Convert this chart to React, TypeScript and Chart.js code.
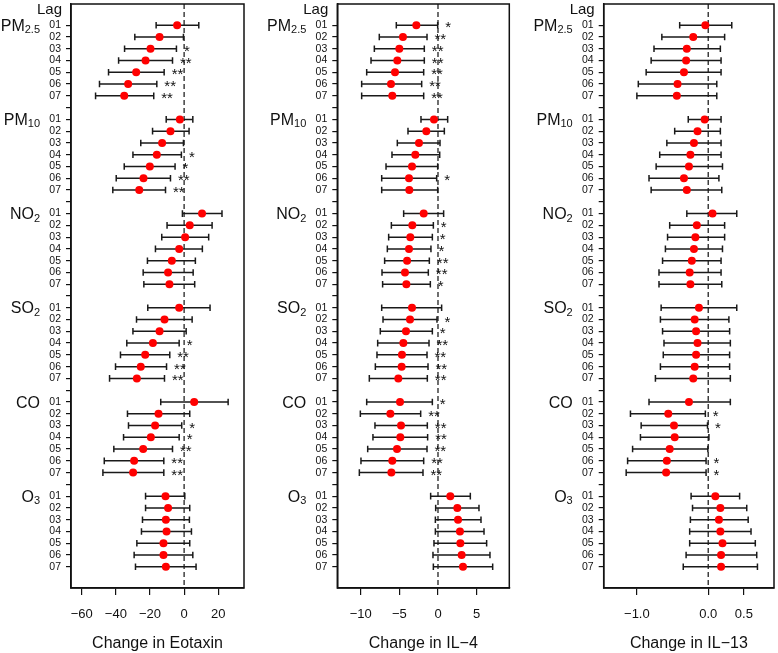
import React, { useEffect, useRef } from "react";
import { Chart, registerables } from "chart.js";
Chart.register(...registerables);

const FONT = '"Liberation Sans", Arial, Helvetica, sans-serif';
Chart.defaults.font.family = FONT;

const pollutantNames = ["PM", "PM", "NO", "SO", "CO", "O"];
const pollutantSubs = ["2.5", "10", "2", "2", "", "3"];
const lagLabels = ["01", "02", "03", "04", "05", "06", "07"];

// Eotaxin
const eotaxinEst = [
  -4.1, -14.4, -19.7, -22.6, -28.1, -32.8, -35.1,
  -2.5, -8.0, -12.9, -16.0, -20.1, -23.8, -26.3,
  10.5, 3.3, 0.6, -2.9, -7.2, -9.4, -8.6,
  -2.9, -11.5, -14.4, -18.3, -22.8, -25.4, -27.7,
  5.9, -15.0, -17.0, -19.5, -24.0, -29.3, -29.9,
  -10.9, -9.4, -10.7, -10.3, -12.1, -12.1, -10.7,
];
const eotaxinLow = [
  -16.4, -28.9, -34.9, -38.4, -44.3, -49.6, -51.9,
  -10.5, -18.5, -25.4, -30.0, -35.1, -39.8, -41.8,
  -1.0, -10.0, -13.1, -16.8, -21.5, -24.0, -23.6,
  -21.3, -27.9, -30.0, -33.6, -37.3, -40.2, -43.7,
  -13.7, -33.2, -32.6, -35.5, -41.2, -46.8, -47.6,
  -22.6, -22.6, -24.4, -25.0, -27.7, -29.3, -28.5,
];
const eotaxinHigh = [
  8.6, -0.4, -4.5, -6.8, -11.7, -16.0, -17.8,
  5.1, 2.9, -0.4, -1.6, -5.3, -8.0, -10.9,
  22.2, 16.4, 14.4, 10.7, 6.6, 5.3, 6.2,
  15.2, 4.7, 1.2, -2.9, -8.4, -10.3, -11.5,
  25.8, 3.3, -1.4, -2.9, -6.8, -11.9, -11.9,
  0.4, 3.3, 3.1, 4.3, 3.3, 5.1, 7.0,
];
const eotaxinStars = [
  "", "", "*", "**", "**", "**", "**",
  "", "", "", "*", "*", "**", "**",
  "", "", "", "", "", "", "",
  "", "", "", "*", "**", "**", "**",
  "", "", "*", "*", "**", "**", "**",
  "", "", "", "", "", "", "",
];
const eotaxinTicks = [-60, -40, -20, 0, 20];
const eotaxinTickLabels = ["\u221260", "\u221240", "\u221220", "0", "20"];

// IL-4
const il4Est = [
  -2.8, -4.53, -5.0, -5.26, -5.56, -6.08, -5.91,
  -0.52, -1.51, -2.46, -2.93, -3.36, -3.75, -3.71,
  -1.85, -3.32, -3.58, -3.75, -4.0, -4.27, -4.09,
  -3.36, -3.62, -4.14, -4.48, -4.66, -4.7, -5.13,
  -4.91, -6.16, -4.78, -4.87, -5.3, -5.91, -6.03,
  1.59, 2.5, 2.59, 2.84, 2.89, 3.06, 3.23,
];
const il4Low = [
  -5.39, -7.59, -8.23, -8.66, -9.22, -9.87, -9.87,
  -2.2, -3.88, -5.26, -5.95, -6.72, -7.28, -7.28,
  -4.44, -6.03, -6.38, -6.55, -6.9, -7.24, -7.16,
  -7.28, -7.11, -7.46, -7.8, -7.89, -8.1, -8.88,
  -9.22, -10.04, -8.15, -8.41, -9.09, -9.96, -10.17,
  -0.95, -0.3, -0.34, -0.34, -0.52, -0.65, -0.6,
];
const il4High = [
  -0.04, -1.42, -1.77, -1.77, -1.85, -2.11, -1.85,
  1.25, 0.82, 0.26, 0.22, -0.04, -0.17, -0.04,
  0.73, -0.6, -0.73, -0.91, -1.12, -1.25, -0.99,
  0.47, -0.13, -0.73, -1.16, -1.42, -1.29, -1.38,
  -0.73, -2.24, -1.38, -1.34, -1.42, -1.85, -1.94,
  4.18, 5.3, 5.56, 5.95, 6.29, 6.72, 7.07,
];
const il4Stars = [
  "*", "**", "**", "**", "**", "**", "**",
  "", "", "", "", "", "*", "",
  "", "*", "*", "*", "**", "**", "*",
  "", "*", "*", "**", "**", "**", "**",
  "*", "**", "**", "**", "**", "**", "**",
  "", "", "", "", "", "", "",
];
const il4Ticks = [-10, -5, 0, 5];
const il4TickLabels = ["\u221210", "\u22125", "0", "5"];

// IL-13
const il13Est = [
  -0.04, -0.21, -0.3, -0.31, -0.34, -0.43, -0.44,
  -0.05, -0.15, -0.2, -0.25, -0.27, -0.34, -0.3,
  0.06, -0.16, -0.18, -0.2, -0.23, -0.26, -0.25,
  -0.13, -0.19, -0.17, -0.15, -0.17, -0.19, -0.21,
  -0.27, -0.56, -0.48, -0.47, -0.54, -0.58, -0.59,
  0.1, 0.17, 0.15, 0.17, 0.2, 0.18, 0.18,
];
const il13Low = [
  -0.4, -0.65, -0.76, -0.8, -0.87, -0.98, -1.0,
  -0.28, -0.47, -0.58, -0.68, -0.73, -0.83, -0.8,
  -0.3, -0.54, -0.57, -0.6, -0.64, -0.69, -0.69,
  -0.66, -0.67, -0.64, -0.62, -0.63, -0.67, -0.74,
  -0.83, -1.09, -0.94, -0.95, -1.06, -1.13, -1.15,
  -0.24, -0.22, -0.25, -0.26, -0.26, -0.31, -0.35,
];
const il13High = [
  0.33, 0.23, 0.17, 0.18, 0.18, 0.12, 0.12,
  0.18, 0.17, 0.18, 0.18, 0.2, 0.15, 0.19,
  0.4, 0.23, 0.23, 0.2, 0.18, 0.18, 0.19,
  0.4, 0.29, 0.3, 0.31, 0.3, 0.3, 0.31,
  0.31, -0.04, -0.01, 0.01, -0.005, -0.03, -0.03,
  0.44, 0.54, 0.56, 0.6, 0.66, 0.68, 0.69,
];
const il13Stars = [
  "", "", "", "", "", "", "",
  "", "", "", "", "", "", "",
  "", "", "", "", "", "", "",
  "", "", "", "", "", "", "",
  "", "*", "*", "", "", "*", "*",
  "", "", "", "", "", "", "",
];
const il13Ticks = [-1, 0, 0.5];
const il13TickLabels = ["\u22121.0", "0.0", "0.5"];

type PanelCfg = {
  est: number[]; low: number[]; high: number[]; stars: string[];
  ticks: number[]; tickLabels: string[]; min: number; max: number; title: string;
  left: number; width: number; axisWidth: number; padRight: number;
};

const panels: PanelCfg[] = [
  { est: eotaxinEst, low: eotaxinLow, high: eotaxinHigh, stars: eotaxinStars, ticks: eotaxinTicks, tickLabels: eotaxinTickLabels,
    min: -66.3, max: 35.1, title: "Change in Eotaxin", left: 0, width: 260, axisWidth: 71, padRight: 16 },
  { est: il4Est, low: il4Low, high: il4High, stars: il4Stars, ticks: il4Ticks, tickLabels: il4TickLabels,
    min: -13.02, max: 9.22, title: "Change in IL\u22124", left: 260, width: 258, axisWidth: 77.3, padRight: 8.7 },
  { est: il13Est, low: il13Low, high: il13High, stars: il13Stars, ticks: il13Ticks, tickLabels: il13TickLabels,
    min: -1.465, max: 0.922, title: "Change in IL\u221213", left: 518, width: 260, axisWidth: 85.7, padRight: 1.7 },
];

const rowOf = (i: number) => Math.floor(i / 7) * 8 + (i % 7);

function Panel({ cfg }: { cfg: PanelCfg }) {
  const ref = useRef<HTMLCanvasElement>(null);
  useEffect(() => {
    const canvas = ref.current!;
    const pts = cfg.est.map((v, i) => ({ x: v, y: rowOf(i) }));
    const ink = "#111";
    const plugin = {
      id: "forest",
      beforeDatasetsDraw(chart: any) {
        const { ctx, chartArea, scales } = chart;
        const x = scales.x, y = scales.y;
        ctx.save();
        const x0 = x.getPixelForValue(0);
        ctx.strokeStyle = "#222";
        ctx.lineWidth = 1.3;
        ctx.setLineDash([5, 3]);
        ctx.beginPath();
        ctx.moveTo(x0, chartArea.top);
        ctx.lineTo(x0, chartArea.bottom);
        ctx.stroke();
        ctx.setLineDash([]);
        ctx.strokeStyle = "#1a1a1a";
        ctx.lineWidth = 1.5;
        cfg.low.forEach((lo, i) => {
          const yy = y.getPixelForValue(rowOf(i));
          const xl = x.getPixelForValue(lo);
          const xh = x.getPixelForValue(cfg.high[i]);
          ctx.beginPath();
          ctx.moveTo(xl, yy); ctx.lineTo(xh, yy);
          ctx.moveTo(xl, yy - 3.3); ctx.lineTo(xl, yy + 3.3);
          ctx.moveTo(xh, yy - 3.3); ctx.lineTo(xh, yy + 3.3);
          ctx.stroke();
        });
        ctx.restore();
      },
      afterDraw(chart: any) {
        const { ctx, chartArea, scales } = chart;
        const x = scales.x, y = scales.y;
        ctx.save();
        ctx.strokeStyle = ink;
        ctx.lineWidth = 1.5;
        ctx.strokeRect(chartArea.left, chartArea.top, chartArea.right - chartArea.left, chartArea.bottom - chartArea.top);
        ctx.fillStyle = ink;
        ctx.font = `15px ${FONT}`;
        ctx.textAlign = "left";
        ctx.textBaseline = "alphabetic";
        cfg.stars.forEach((s, i) => {
          if (!s) return;
          const yy = y.getPixelForValue(rowOf(i));
          const xh = x.getPixelForValue(cfg.high[i]);
          ctx.fillText(s, xh + 7.5, yy + 7);
        });
        ctx.textAlign = "right";
        ctx.font = `15px ${FONT}`;
        ctx.fillText("Lag", chartArea.left - 9, 13.5);
        const right = chartArea.left - 31;
        pollutantNames.forEach((name, p) => {
          const yy = y.getPixelForValue(p * 8);
          const sub = pollutantSubs[p];
          ctx.font = `16px ${FONT}`;
          const wMain = ctx.measureText(name).width;
          ctx.font = `11px ${FONT}`;
          const wSub = sub ? ctx.measureText(sub).width : 0;
          const start = right - wMain - wSub;
          ctx.textAlign = "left";
          ctx.font = `16px ${FONT}`;
          ctx.fillText(name, start, yy + 5.7);
          if (sub) {
            ctx.font = `11px ${FONT}`;
            ctx.fillText(sub, start + wMain, yy + 8);
          }
        });
        ctx.textAlign = "center";
        ctx.font = `16px ${FONT}`;
        ctx.fillText(cfg.title, (chartArea.left + chartArea.right) / 2, 648);
        ctx.restore();
      },
    };
    const chart = new Chart(canvas, {
      type: "scatter",
      data: {
        datasets: [
          {
            data: pts,
            pointRadius: 4,
            pointBackgroundColor: "#ff0000",
            pointBorderColor: "#ff0000",
            pointBorderWidth: 0,
            showLine: false,
          },
        ],
      },
      options: {
        animation: false,
        responsive: false,
        devicePixelRatio: 1,
        events: [],
        plugins: { legend: { display: false }, tooltip: { enabled: false } },
        layout: { padding: { top: 3, right: cfg.padRight, bottom: 0, left: 0 } },
        scales: {
          x: {
            type: "linear",
            position: "bottom",
            min: cfg.min,
            max: cfg.max,
            afterBuildTicks: (s: any) => { s.ticks = cfg.ticks.map((v) => ({ value: v })); },
            afterFit: (s: any) => { s.height = 65; s.paddingLeft = 0; s.paddingRight = 0; },
            ticks: {
              callback: (_v: any, i: number) => cfg.tickLabels[i],
              font: { size: 13 },
              color: ink,
              padding: 12,
              maxRotation: 0,
              autoSkip: false,
            },
            grid: { drawOnChartArea: false, drawTicks: true, tickLength: 7, color: ink, lineWidth: 1.2 },
            border: { display: true, color: ink, width: 1.5 },
          },
          y: {
            type: "linear",
            reverse: true,
            min: -1.8,
            max: 47.8,
            afterBuildTicks: (s: any) => { s.ticks = Array.from({ length: 47 }, (_, i) => ({ value: i })); },
            afterFit: (s: any) => { s.width = cfg.axisWidth; s.paddingTop = 0; s.paddingBottom = 0; },
            ticks: {
              callback: (v: any) => { const r = Math.round(v) % 8; return r < 7 ? lagLabels[r] : ""; },
              font: { size: 10.5 },
              color: ink,
              padding: 5,
              autoSkip: false,
            },
            grid: { drawOnChartArea: false, drawTicks: true, tickLength: 5, color: ink, lineWidth: 1.2 },
            border: { display: true, color: ink, width: 1.5 },
          },
        },
      },
      plugins: [plugin],
    } as any);
    return () => chart.destroy();
  }, [cfg]);
  return (
    <canvas
      ref={ref}
      width={cfg.width}
      height={653}
      style={{ position: "absolute", left: cfg.left, top: 0, width: cfg.width, height: 653 }}
    />
  );
}

export default function App() {
  return (
    <div style={{ position: "absolute", left: 0, top: 0, width: 778, height: 653, background: "#fff", overflow: "hidden" }}>
      {panels.map((cfg, i) => (
        <Panel key={i} cfg={cfg} />
      ))}
    </div>
  );
}
